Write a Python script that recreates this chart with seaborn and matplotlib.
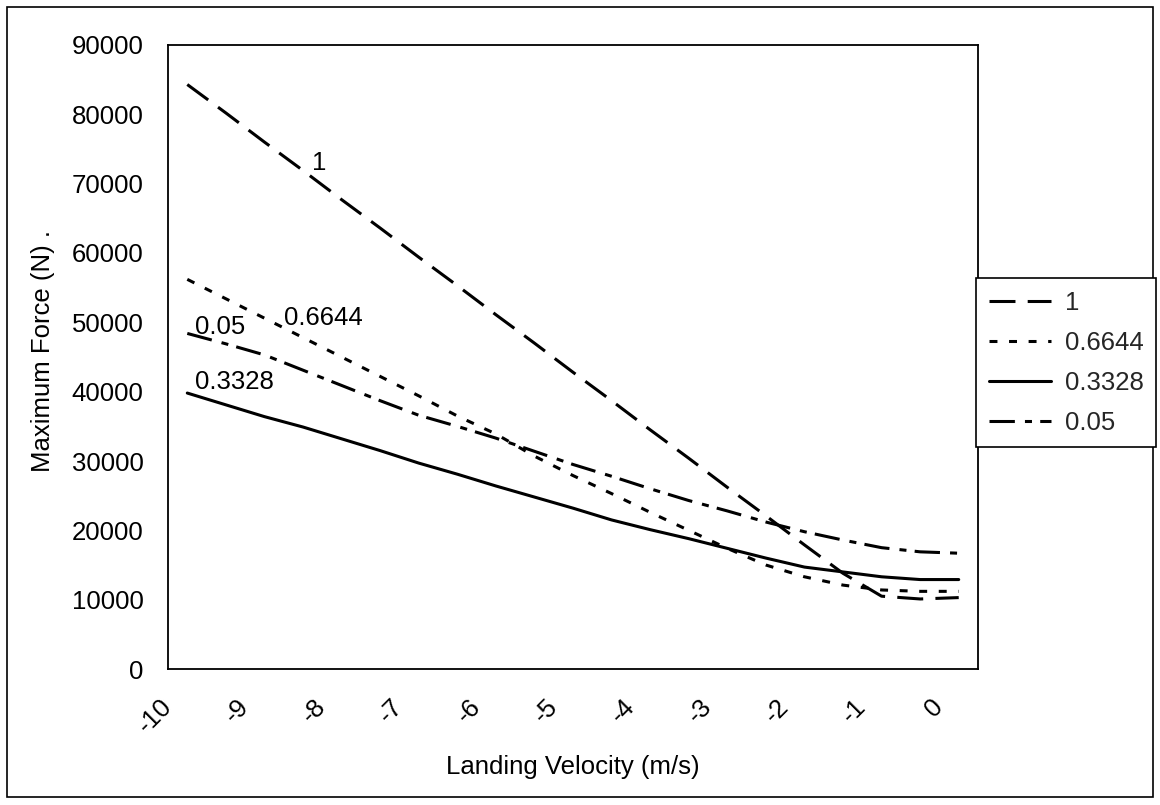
import matplotlib
matplotlib.use("Agg")
import matplotlib.pyplot as plt
from matplotlib.ticker import MultipleLocator, FixedLocator, FixedFormatter
from matplotlib.patches import Rectangle
import seaborn as sns
import pandas as pd

# Landing velocity (m/s) at which the maximum force was evaluated
velocity = [-9.75, -9.25, -8.75, -8.25, -7.75, -7.25, -6.75, -6.25, -5.75, -5.25,
            -4.75, -4.25, -3.75, -3.25, -2.75, -2.25, -1.75, -1.25, -0.75, -0.25, 0.25]

# Maximum force (N) for each parameter value
force_1 = [84300, 80200, 76000, 71900, 67700, 63600, 59400, 55300, 51100, 47000,
           42800, 38700, 34500, 30400, 26200, 22100, 17900, 13800, 10500, 10100, 10300]
force_06644 = [56200, 53400, 50600, 47800, 45000, 42200, 39400, 36500, 33900, 30700,
               27900, 25300, 22600, 20000, 17400, 15000, 13300, 12100, 11400, 11200, 11200]
force_03328 = [39800, 38100, 36400, 34900, 33200, 31500, 29700, 28100, 26400, 24800,
               23200, 21500, 20100, 18800, 17400, 16000, 14700, 14000, 13300, 12900, 12900]
force_005 = [48400, 46900, 45300, 43100, 40900, 38700, 36600, 35000, 33300, 31400,
             29500, 27800, 26000, 24300, 22800, 21200, 19800, 18600, 17500, 16900, 16700]

series_names = ["1", "0.6644", "0.3328", "0.05"]
series_values = [force_1, force_06644, force_03328, force_005]

x_tick_values = [-10, -9, -8, -7, -6, -5, -4, -3, -2, -1, 0]
x_tick_labels = ["-10", "-9", "-8", "-7", "-6", "-5", "-4", "-3", "-2", "-1", "0"]
y_tick_values = [0, 10000, 20000, 30000, 40000, 50000, 60000, 70000, 80000, 90000]

# Curve labels written next to the lines
curve_label_text = ["1", "0.6644", "0.05", "0.3328"]
curve_label_x = [-8.04, -7.99, -9.33, -9.14]
curve_label_y = [73000, 50600, 49300, 41400]

frames = []
for name, vals in zip(series_names, series_values):
    frames.append(pd.DataFrame({"velocity": velocity, "force": vals, "series": name}))
df = pd.concat(frames, ignore_index=True)

sns.set_style("white")
plt.rcParams["font.family"] = ["Liberation Sans", "DejaVu Sans"]
plt.rcParams["axes.unicode_minus"] = False

FS = 18.5
fig = plt.figure(figsize=(11.6, 8.05), dpi=100)
ax = fig.add_axes([168 / 1160, 1 - 669 / 805, 810 / 1160, 624 / 805])

dash_styles = {
    "1": (8.5, 4.0),
    "0.6644": (2.6, 3.8),
    "0.3328": "",
    "0.05": (8.3, 3.3, 2.3, 2.7),
}
sns.lineplot(data=df, x="velocity", y="force", hue="series", style="series",
             hue_order=series_names, style_order=series_names,
             palette=["black"] * 4, dashes=dash_styles, linewidth=2.2,
             legend=False, ax=ax, estimator=None, sort=False)
for ln in ax.get_lines():
    ln.set_dash_capstyle("butt")
    ln.set_solid_joinstyle("round")

ax.set_xlim(-10, 0.5)
ax.set_ylim(0, 90000)
ax.xaxis.set_major_locator(FixedLocator(x_tick_values))
ax.xaxis.set_major_formatter(FixedFormatter(x_tick_labels))
ax.xaxis.set_minor_locator(MultipleLocator(0.5))
ax.yaxis.set_major_locator(FixedLocator(y_tick_values))
ax.yaxis.set_major_formatter(FixedFormatter([str(v) for v in y_tick_values]))

for side in ["left", "right", "top", "bottom"]:
    ax.spines[side].set_visible(True)
    ax.spines[side].set_color("black")
    ax.spines[side].set_linewidth(1.3)

ax.tick_params(axis="both", which="both", direction="out", length=6.5, width=1.1,
               color="black", labelsize=FS, labelcolor="black")
ax.tick_params(axis="y", pad=11)
ax.tick_params(axis="x", which="major", pad=18)
for lbl in ax.get_xticklabels():
    lbl.set_rotation(45)
    lbl.set_ha("right")
    lbl.set_va("center")
    lbl.set_rotation_mode("anchor")

ax.set_xlabel("Landing Velocity (m/s)", fontsize=FS, color="black")
ax.xaxis.set_label_coords(0.5, (669 - 755) / 624)
ax.set_ylabel("Maximum Force (N) .", fontsize=FS, color="black")
ax.yaxis.label.set_va("center")
ax.yaxis.set_label_coords((43 - 168) / 810, (669 - 351) / 624)

for txt, tx, ty in zip(curve_label_text, curve_label_x, curve_label_y):
    ax.text(tx, ty, txt, fontsize=FS, ha="center", va="center", color="black")

handles = ax.get_lines()[:4]
leg = fig.legend(handles, series_names, loc="upper left",
                 bbox_to_anchor=(976 / 1160, 1 - 278 / 805), borderaxespad=0,
                 frameon=True, fancybox=False, fontsize=FS, handlelength=2.4,
                 handletextpad=0.55, labelspacing=0.62, borderpad=0.5)
leg.get_frame().set_edgecolor("black")
leg.get_frame().set_linewidth(1.2)
leg.get_frame().set_alpha(1)

fig.patches.append(Rectangle((7 / 1160, 1 - 797 / 805), 1146 / 1160, 790 / 805,
                             transform=fig.transFigure, fill=False,
                             edgecolor="black", linewidth=1.2))

fig.savefig("out.png", dpi=100, facecolor="white")
